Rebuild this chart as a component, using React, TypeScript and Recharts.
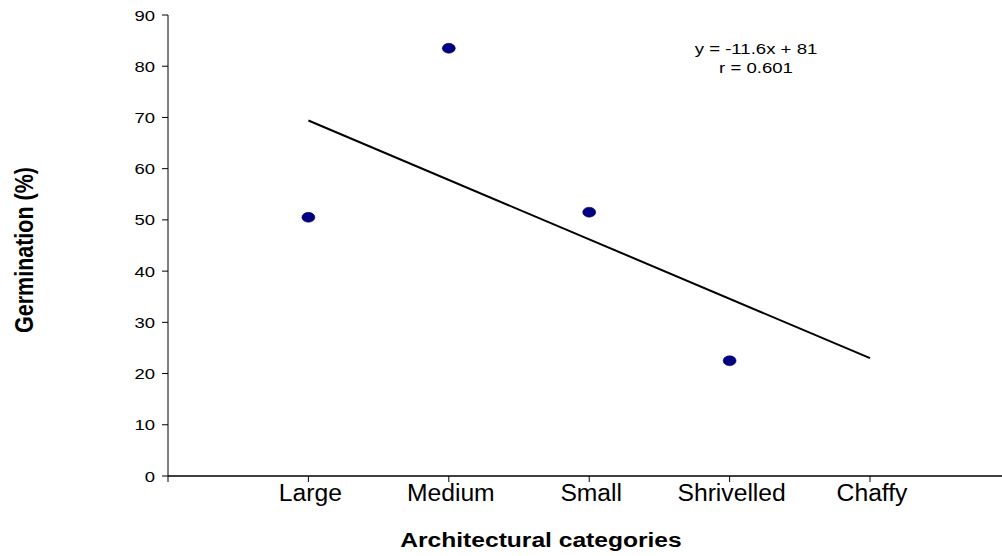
import React from 'react';
import { ScatterChart, Scatter, XAxis, YAxis, ReferenceLine, Customized } from 'recharts';

const categories = ['Large', 'Medium', 'Small', 'Shrivelled', 'Chaffy'];
const germination = [50.5, 83.5, 51.5, 22.5];
const yTicks = [0, 10, 20, 30, 40, 50, 60, 70, 80, 90];
const slope = -11.6;
const intercept = 81;
const rValue = 0.601;

const points = germination.map((v, i) => ({ x: i + 1, y: v }));
const FONT = '"Liberation Sans", Arial, sans-serif';
const SX = 1.2;

const Dot = (props: any) => {
  const { cx, cy } = props;
  return <ellipse cx={cx} cy={cy} rx={6.5} ry={5} fill="#000080" stroke="#000060" strokeWidth={0.5} />;
};

const XTick = (props: any) => {
  const { x, y, payload } = props;
  const v = payload.value;
  const label = v >= 1 ? categories[v - 1] : '';
  return (
    <text transform={`translate(${x + 2},${y + 17}) scale(1.05,1)`} textAnchor="middle" fontSize={23.5} fill="#000" fontFamily={FONT}>
      {label}
    </text>
  );
};

const YTick = (props: any) => {
  const { x, y, payload } = props;
  return (
    <text transform={`translate(${x},${y}) scale(${SX},1)`} textAnchor="end" dy="0.36em" fontSize={15.4} fill="#000" fontFamily={FONT}>
      {payload.value}
    </text>
  );
};

const Texts = () => (
  <g fontFamily={FONT} fill="#000">
    <g fontSize={15.5} textAnchor="middle">
      <text transform={`translate(756,54) scale(${SX},1)`}>{`y = ${slope}x + ${intercept}`}</text>
      <text transform={`translate(756,73) scale(${SX},1)`}>{`r = ${rValue}`}</text>
    </g>
    <text transform={`translate(541,547) scale(${SX},1)`} fontSize={20.5} fontWeight="bold" textAnchor="middle">
      Architectural categories
    </text>
    <text transform={`translate(33,250) scale(${SX},1) rotate(-90)`} fontSize={21.5} fontWeight="bold" textAnchor="middle">
      Germination (%)
    </text>
  </g>
);

export default function App() {
  return (
    <div style={{ position: 'absolute', left: 0, top: 0, width: 1002, height: 556, background: '#fff' }}>
      <ScatterChart width={1002} height={556} margin={{ top: 15, right: 0, bottom: 0, left: 0 }}>
        <XAxis
          type="number"
          dataKey="x"
          domain={[0, 5.94]}
          ticks={[0, 1, 2, 3, 4, 5]}
          interval={0}
          height={80}
          axisLine={{ stroke: '#000', strokeWidth: 1.5 }}
          tickLine={{ stroke: '#000' }}
          tickSize={6}
          tick={<XTick />}
          allowDataOverflow
        />
        <YAxis
          type="number"
          dataKey="y"
          domain={[0, 90]}
          ticks={yTicks}
          interval={0}
          width={168}
          axisLine={{ stroke: '#000', strokeWidth: 1 }}
          tickLine={{ stroke: '#000' }}
          tickSize={6}
          tickMargin={7}
          tick={<YTick />}
        />
        <ReferenceLine
          segment={[{ x: 1, y: slope * 1 + intercept }, { x: 5, y: slope * 5 + intercept }]}
          stroke="#000"
          strokeWidth={2}
          ifOverflow="visible"
        />
        <Scatter data={points} shape={<Dot />} isAnimationActive={false} />
        <Customized component={Texts} />
      </ScatterChart>
    </div>
  );
}
